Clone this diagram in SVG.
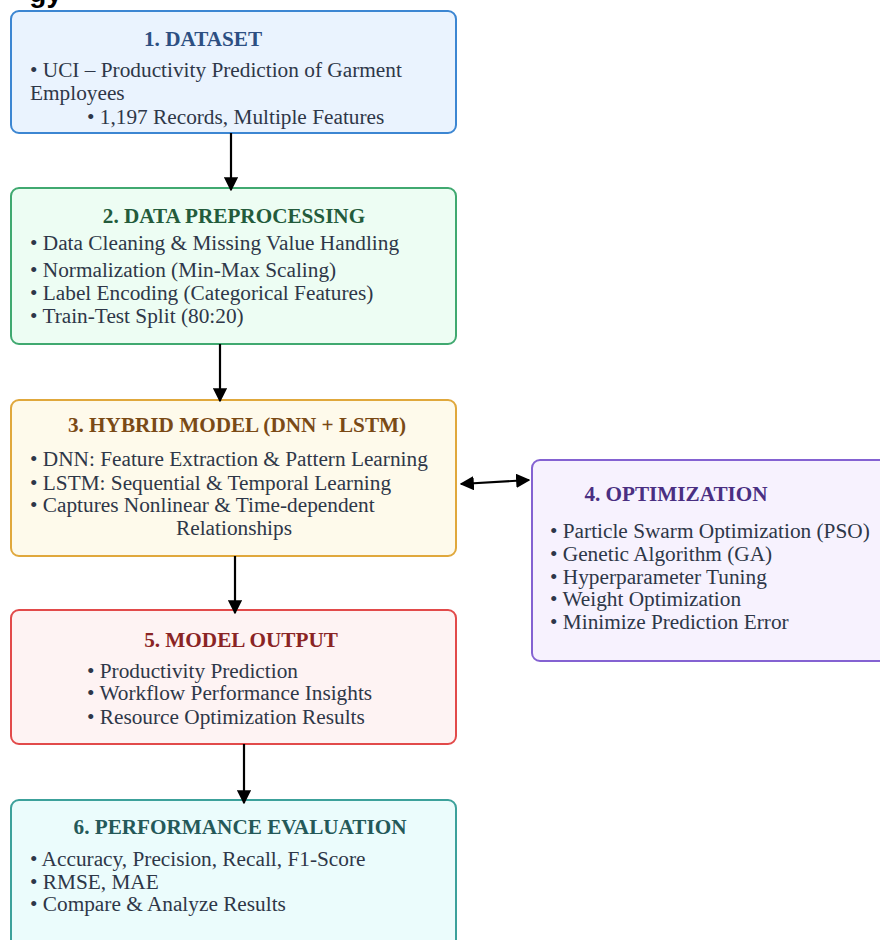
<svg xmlns="http://www.w3.org/2000/svg" width="880" height="940" viewBox="0 0 880 940">
<defs>
<marker id="ah" viewBox="0 0 10 10" refX="9" refY="5" markerWidth="6.5" markerHeight="6.5" markerUnits="strokeWidth" orient="auto-start-reverse">
<path d="M0,0 L10,5 L0,10 z" fill="#000"/>
</marker>
<style>
.box{stroke-width:2}
.t{font-family:"Liberation Serif","Times New Roman",serif;font-weight:bold;font-size:21.2px}
.b{font-family:"Liberation Serif","Times New Roman",serif;font-size:21.3px;fill:#2e3748}
.c{stroke:#000;stroke-width:2.2;fill:none;marker-end:url(#ah)}
</style>
</defs>
<rect width="880" height="940" fill="#fff"/>
<text x="62" y="2" text-anchor="end" font-family="Liberation Sans, Arial, sans-serif" font-weight="bold" font-size="28" fill="#000">gy</text>

<g id="n1">
<rect class="box" x="11" y="11" width="445" height="122" rx="8" fill="#eaf3fe" stroke="#3c86d2"/>
<text class="t" x="203" y="46" text-anchor="middle" fill="#2d4f82">1. DATASET</text>
<text class="b" x="30" y="77">• UCI – Productivity Prediction of Garment</text>
<text class="b" x="30" y="100">Employees</text>
<text class="b" x="87" y="124">• 1,197 Records, Multiple Features</text>
</g>

<g id="n2">
<rect class="box" x="11" y="188" width="445" height="156" rx="8" fill="#edfdf3" stroke="#40a970"/>
<text class="t" x="234" y="223" text-anchor="middle" fill="#235b3b">2. DATA PREPROCESSING</text>
<text class="b" x="30" y="250">• Data Cleaning &amp; Missing Value Handling</text>
<text class="b" x="30" y="277">• Normalization (Min-Max Scaling)</text>
<text class="b" x="30" y="300">• Label Encoding (Categorical Features)</text>
<text class="b" x="30" y="323">• Train-Test Split (80:20)</text>
</g>

<g id="n3">
<rect class="box" x="11" y="400" width="445" height="156" rx="8" fill="#fefaeb" stroke="#e0a83c"/>
<text class="t" x="237" y="432" text-anchor="middle" fill="#7a4a16">3. HYBRID MODEL (DNN + LSTM)</text>
<text class="b" x="30" y="466">• DNN: Feature Extraction &amp; Pattern Learning</text>
<text class="b" x="30" y="490">• LSTM: Sequential &amp; Temporal Learning</text>
<text class="b" x="30" y="512">• Captures Nonlinear &amp; Time-dependent</text>
<text class="b" x="234" y="535" text-anchor="middle">Relationships</text>
</g>

<g id="n4">
<rect class="box" x="532" y="460" width="360" height="201" rx="8" fill="#f7f2fe" stroke="#8462d2"/>
<text class="t" x="676" y="501" text-anchor="middle" fill="#4a2f82">4. OPTIMIZATION</text>
<text class="b" x="550" y="538">• Particle Swarm Optimization (PSO)</text>
<text class="b" x="550" y="561">• Genetic Algorithm (GA)</text>
<text class="b" x="550" y="584">• Hyperparameter Tuning</text>
<text class="b" x="550" y="606">• Weight Optimization</text>
<text class="b" x="550" y="629">• Minimize Prediction Error</text>
</g>

<g id="n5">
<rect class="box" x="11" y="610" width="445" height="134" rx="8" fill="#fef3f3" stroke="#e24a4a"/>
<text class="t" x="241" y="647" text-anchor="middle" fill="#8a2424">5. MODEL OUTPUT</text>
<text class="b" x="87" y="678">• Productivity Prediction</text>
<text class="b" x="87" y="700">• Workflow Performance Insights</text>
<text class="b" x="87" y="724">• Resource Optimization Results</text>
</g>

<g id="n6">
<rect class="box" x="11" y="800" width="445" height="160" rx="8" fill="#ebfcfc" stroke="#3ca19b"/>
<text class="t" x="240" y="834" text-anchor="middle" fill="#245959">6. PERFORMANCE EVALUATION</text>
<text class="b" x="30" y="866">• Accuracy, Precision, Recall, F1-Score</text>
<text class="b" x="30" y="889">• RMSE, MAE</text>
<text class="b" x="30" y="911">• Compare &amp; Analyze Results</text>
</g>

<g id="connectors">
<line class="c" x1="231" y1="133" x2="231" y2="190"/>
<line class="c" x1="220" y1="344" x2="220" y2="401"/>
<line class="c" x1="235" y1="556" x2="235" y2="613"/>
<line class="c" x1="244" y1="744" x2="244" y2="803"/>
<line class="c" x1="461" y1="484" x2="529" y2="480" marker-start="url(#ah)"/>
</g>
</svg>
